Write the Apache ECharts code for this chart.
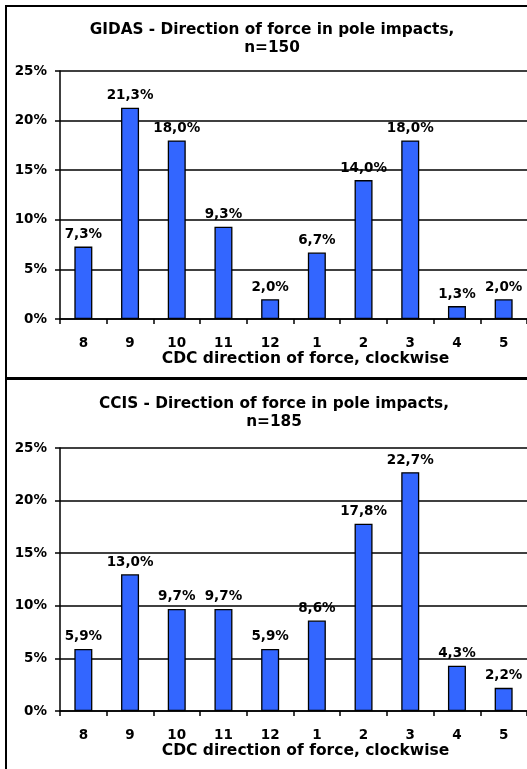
<!DOCTYPE html>
<html>
<head>
<meta charset="utf-8">
<script src="https://cdn.jsdelivr.net/npm/echarts@6/dist/echarts.min.js"></script>
<style>
  html, body { margin: 0; padding: 0; background: #fff; overflow: hidden; }
  #frame { position: absolute; left: 5px; top: 5px; width: 700px; height: 900px;
           border-left: 2px solid #000; border-top: 2px solid #000; }
  #sep { position: absolute; left: 5px; top: 377px; width: 700px; height: 3px; background: #000; }
  #chart { position: absolute; left: 0; top: 0; width: 527px; height: 769px; }
</style>
</head>
<body>
<div id="frame"></div>
<div id="sep"></div>
<div id="chart"></div>
<script>
const categories = ['8', '9', '10', '11', '12', '1', '2', '3', '4', '5'];
const gidasValues = [7.3, 21.3, 18.0, 9.3, 2.0, 6.7, 14.0, 18.0, 1.3, 2.0];
const ccisValues = [5.9, 13.0, 9.7, 9.7, 5.9, 8.6, 17.8, 22.7, 4.3, 2.2];
const yTicks = [0, 5, 10, 15, 20, 25];

const FONT = 'DejaVu Sans';
const barColor = '#3366ff';

const pct = v => v.toFixed(1).replace('.', ',') + '%';

function xAxisFor(gridIndex) {
    return {
        type: 'category',
        gridIndex: gridIndex,
        data: categories,
        name: 'CDC direction of force, clockwise',
        nameLocation: 'middle',
        nameGap: 32,
        nameTextStyle: { fontFamily: FONT, fontWeight: 'bold', fontSize: 15.5, color: '#000', padding: [0, 0, 0, 24] },
        axisLine: { lineStyle: { color: '#000', width: 1.5 } },
        axisTick: { show: true, alignWithLabel: false, length: 5, lineStyle: { color: '#000', width: 1.5 } },
        axisLabel: { margin: 17, fontFamily: FONT, fontWeight: 'bold', fontSize: 13.5, color: '#000', interval: 0 },
        splitLine: { show: false }
    };
}

function yAxisFor(gridIndex) {
    return {
        type: 'value',
        gridIndex: gridIndex,
        min: yTicks[0],
        max: yTicks[yTicks.length - 1],
        interval: 5,
        axisLine: { show: true, lineStyle: { color: '#000', width: 1.5 } },
        axisTick: { show: true, length: 5, lineStyle: { color: '#000', width: 1.5 } },
        axisLabel: { margin: 13, fontFamily: FONT, fontWeight: 'bold', fontSize: 13.5, color: '#000', formatter: '{value}%' },
        splitLine: { show: true, lineStyle: { color: '#000', width: 1.5 } }
    };
}

function barSeries(idx, values) {
    return {
        type: 'bar',
        xAxisIndex: idx,
        yAxisIndex: idx,
        data: values,
        barWidth: 18,
        itemStyle: { color: barColor, borderColor: '#000', borderWidth: 1.3 },
        label: {
            show: true,
            position: 'top',
            distance: 5,
            fontFamily: FONT,
            fontWeight: 'bold',
            fontSize: 13.5,
            color: '#000',
            formatter: p => pct(p.value)
        }
    };
}

const chart = echarts.init(document.getElementById('chart'));
chart.setOption({
    animation: false,
    title: [
        {
            text: 'GIDAS - Direction of force in pole impacts,\nn=150',
            left: 267, top: 16, textAlign: 'center',
            textStyle: { fontFamily: FONT, fontWeight: 'bold', fontSize: 15.3, lineHeight: 18, color: '#000' }
        },
        {
            text: 'CCIS - Direction of force in pole impacts,\nn=185',
            left: 269, top: 390, textAlign: 'center',
            textStyle: { fontFamily: FONT, fontWeight: 'bold', fontSize: 15.3, lineHeight: 18, color: '#000' }
        }
    ],
    grid: [
        { left: 60, top: 71, width: 468, height: 248 },
        { left: 60, top: 448, width: 468, height: 263 }
    ],
    xAxis: [xAxisFor(0), xAxisFor(1)],
    yAxis: [yAxisFor(0), yAxisFor(1)],
    series: [barSeries(0, gidasValues), barSeries(1, ccisValues)]
});
</script>
</body>
</html>
